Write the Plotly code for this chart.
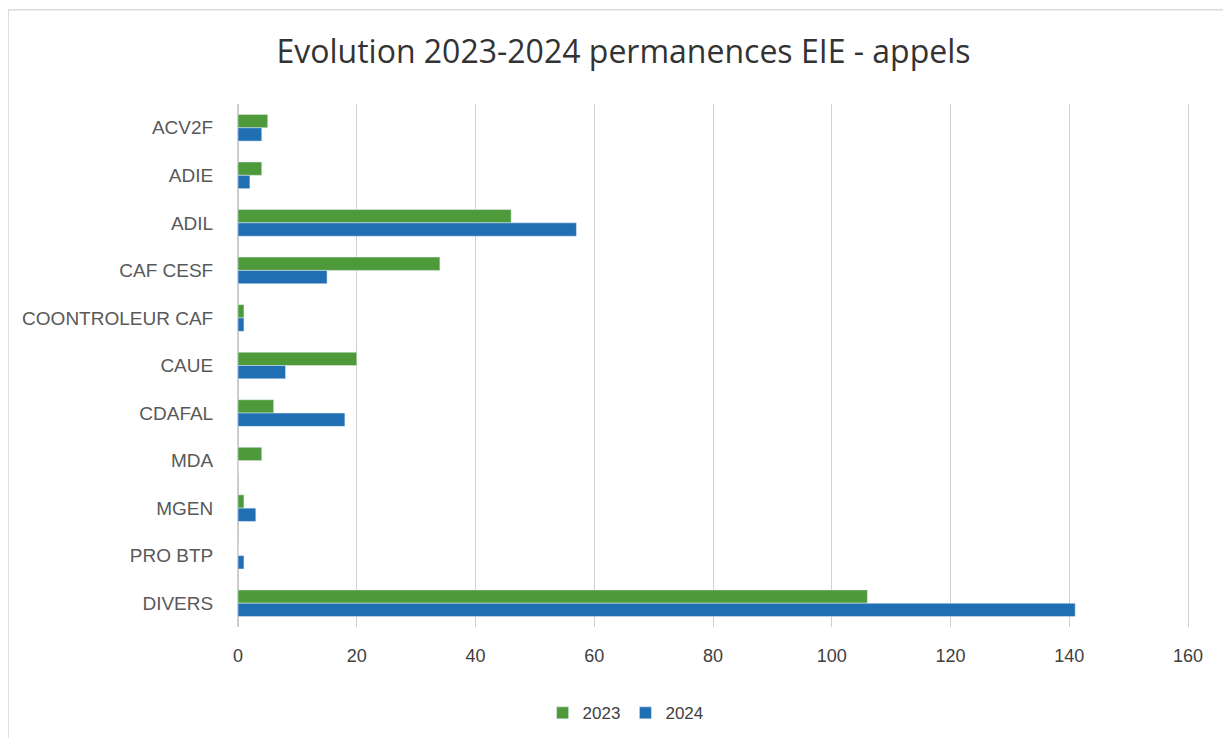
import plotly.graph_objects as go

categories = ["ACV2F", "ADIE", "ADIL", "CAF CESF", "COONTROLEUR CAF", "CAUE",
              "CDAFAL", "MDA", "MGEN", "PRO BTP", "DIVERS"]
values_2023 = [5, 4, 46, 34, 1, 20, 6, 4, 1, 0, 106]
values_2024 = [4, 2, 57, 15, 1, 8, 18, 0, 3, 1, 141]
x_ticks = [0, 20, 40, 60, 80, 100, 120, 140, 160]

fig = go.Figure()
fig.add_trace(go.Bar(y=categories, x=values_2023, name="2023", orientation="h",
                     marker=dict(color="#4e9a3a")))
fig.add_trace(go.Bar(y=categories, x=values_2024, name="2024", orientation="h",
                     marker=dict(color="#1f6fb2")))

fig.update_layout(
    width=1231, height=738,
    paper_bgcolor="white", plot_bgcolor="white",
    barmode="group", bargap=0.44, bargroupgap=0,
    margin=dict(l=230, r=51, t=96, b=119),
    title=dict(text="Evolution 2023-2024 permanences EIE - appels",
               x=0.5, xanchor="center", y=0.94, yanchor="middle",
               font=dict(family="Open Sans, sans-serif", size=32, color="#333333")),
    font=dict(family="Liberation Sans, Open Sans, sans-serif", color="#595959", size=17),
    legend=dict(orientation="h", x=0.408, xanchor="center", y=-0.165, yanchor="middle",
                font=dict(size=17, color="#404040"), itemwidth=30),
    xaxis=dict(range=[0, 160], tickvals=x_ticks, showgrid=True, gridcolor="#d0d0d0",
               gridwidth=1, zeroline=True, zerolinecolor="#c8c8c8", showline=False,
               tickfont=dict(size=18, color="#404040"), ticks="outside", ticklen=12,
               tickcolor="rgba(0,0,0,0)"),
    yaxis=dict(autorange="reversed", showgrid=False, showline=True, mirror=True,
               linecolor="#d0d0d0", linewidth=1, ticks="",
               tickfont=dict(size=19, color="#595959"), ticklabelstandoff=20),
    shapes=[
        dict(type="line", xref="paper", yref="paper", x0=-0.242, x1=1.042, y0=1.18, y1=1.18,
             line=dict(color="#c8c8c8", width=1)),
        dict(type="line", xref="paper", yref="paper", x0=-0.242, x1=-0.242, y0=1.18, y1=-0.23,
             line=dict(color="#c8c8c8", width=1)),
        dict(type="line", xref="paper", yref="paper", x0=1.042, x1=1.042, y0=1.18, y1=-0.23,
             line=dict(color="#c8c8c8", width=1)),
    ],
)

fig.write_html("out.html")
